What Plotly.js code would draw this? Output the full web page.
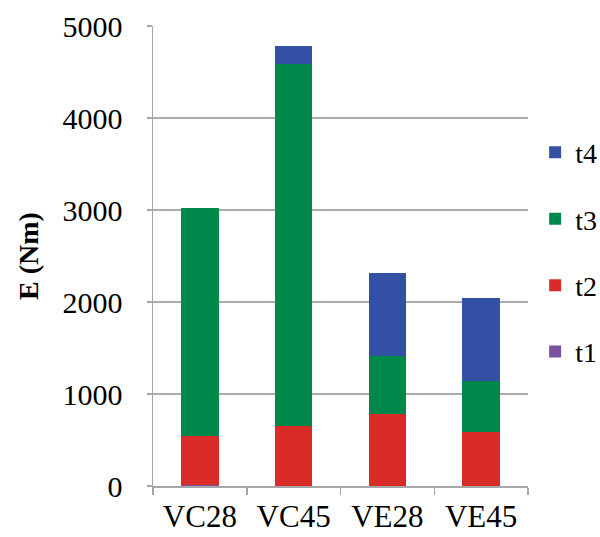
<!DOCTYPE html>
<html>
<head>
<meta charset="utf-8">
<script src="https://cdn.plot.ly/plotly-3.0.1.min.js"></script>
<style>html,body{margin:0;padding:0;background:#fff;}#chart{width:600px;height:537px;}</style>
</head>
<body>
<div id="chart"></div>
<script>
const categories = ["VC28", "VC45", "VE28", "VE45"];
const t1 = [8, 5, 5, 5];
const t2 = [540, 647, 774, 582];
const t3 = [2475, 3935, 634, 551];
const t4 = [0, 196, 902, 905];
const seriesNames = ["t1", "t2", "t3", "t4"];
const colors = ["#7B52A0", "#D92B27", "#00884A", "#3450A4"];
const yTicks = [0, 1000, 2000, 3000, 4000, 5000];

const data = [t1, t2, t3, t4].map((vals, i) => ({
  type: "bar",
  name: seriesNames[i],
  x: categories,
  y: vals,
  marker: {color: colors[i], line: {width: 0}},
  legendgroup: seriesNames[i],
  legendrank: 4 - i,
  hoverinfo: "skip"
}));

const fam = "'Liberation Serif', 'Times New Roman', serif";

const layout = {
  width: 600, height: 537,
  margin: {l: 153, r: 72, t: 26, b: 51, autoexpand: false},
  paper_bgcolor: "#fff", plot_bgcolor: "#fff",
  barmode: "stack",
  bargap: 0.6,
  font: {family: fam, color: "#000"},
  showlegend: true,
  legend: {
    x: 1.019, xanchor: "left", y: 0.779, yanchor: "top",
    traceorder: "grouped",
    tracegroupgap: 27,
    font: {family: fam, size: 28, color: "#000"},
    itemwidth: 30
  },
  xaxis: {
    type: "category",
    range: [-0.5, 3.5],
    tickson: "boundaries",
    tickangle: 0,
    automargin: false,
    ticks: "outside", ticklen: 7, tickcolor: "#A6A6A6", tickwidth: 1.5,
    ticklabelstandoff: 2,
    showline: true, linecolor: "#A6A6A6", linewidth: 1.5,
    showgrid: false,
    tickfont: {family: fam, size: 31, color: "#000"},
    fixedrange: true
  },
  yaxis: {
    range: [0, 5000],
    tickvals: yTicks,
    ticktext: yTicks.map(String),
    automargin: false,
    ticks: "outside", ticklen: 5, tickcolor: "#A6A6A6", tickwidth: 1.5,
    ticklabelstandoff: 18,
    showline: true, linecolor: "#A6A6A6", linewidth: 1.5,
    showgrid: true, gridcolor: "#ABABAB", gridwidth: 1.5,
    zeroline: false,
    tickfont: {family: fam, size: 30, color: "#000"},
    title: {text: "<b>E (Nm)</b>", font: {family: fam, size: 28, color: "#000"}, standoff: 15},
    fixedrange: true
  }
};

Plotly.newPlot("chart", data, layout, {displayModeBar: false, staticPlot: true});
</script>
</body>
</html>
